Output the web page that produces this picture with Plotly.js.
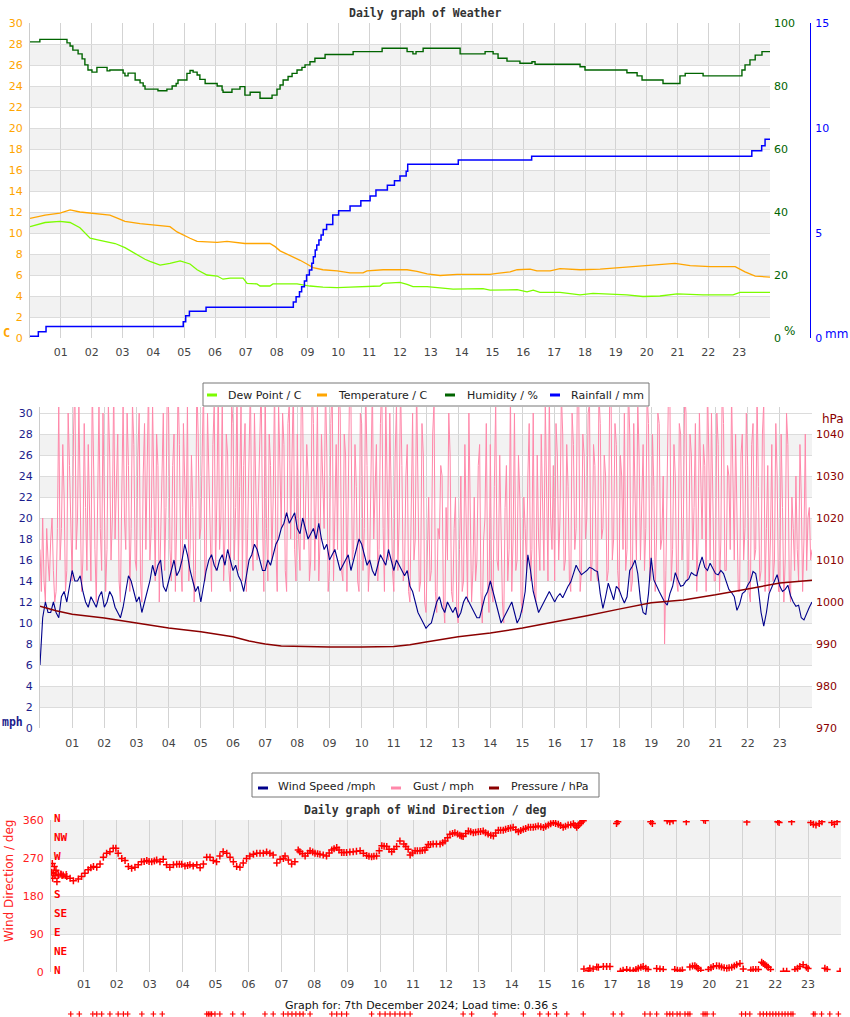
<!DOCTYPE html>
<html>
<head>
<meta charset="utf-8">
<script src="https://cdn.plot.ly/plotly-3.0.1.min.js"></script>
<style>
  html, body { margin: 0; padding: 0; background: #fff; }
  #chart { width: 850px; height: 1017px; }
</style>
</head>
<body>
<div id="chart"></div>
<script>
// ---------- shared time axis (hours of the day) ----------
const hourTicks = [0,1,2,3,4,5,6,7,8,9,10,11,12,13,14,15,16,17,18,19,20,21,22,23,24];
const hourLabels = ['','01','02','03','04','05','06','07','08','09','10','11','12','13','14','15','16','17','18','19','20','21','22','23',''];

// ---------- weather graph ----------
const humHours = [0,0.32,1.04,1.20,1.30,1.39,1.56,1.69,1.78,1.88,2.01,2.17,2.50,2.59,2.92,3.02,3.08,3.18,3.41,3.57,
  3.67,3.73,4.15,4.44,4.61,4.74,4.80,5.09,5.19,5.29,5.42,5.51,5.68,6.07,6.23,6.26,6.55,6.81,6.97,7.14,
  7.46,7.85,8.01,8.11,8.21,8.37,8.50,8.66,8.82,8.92,9.08,9.24,9.57,10.48,11.42,12.23,12.42,12.52,12.75,13.69,
  13.95,14.76,15.02,15.18,15.47,15.89,16.28,16.38,17.74,17.84,18.00,19.04,19.36,19.69,19.85,20.53,21.08,21.25,21.83,23.09,
  23.19,23.35,23.52,23.74,24.0];
const humVals = [94.0,94.8,94.8,93.7,92.7,91.4,90.2,88.6,86.7,85.1,84.4,85.9,84.8,85.1,85.1,84.1,83.2,84.1,81.9,81.0,
  80.0,79.0,78.5,79.0,80.0,80.8,81.9,84.0,84.9,84.4,83.5,82.1,80.8,80.0,78.7,78.0,79.0,79.8,77.1,78.0,
  76.1,77.1,79.0,80.3,81.9,83.0,84.0,85.1,85.9,86.7,87.7,88.8,90.0,90.9,92.0,90.9,90.2,90.9,92.0,92.0,
  90.2,90.9,90.2,88.8,87.9,87.2,87.7,86.9,86.9,86.1,85.1,85.1,84.2,83.2,81.9,80.8,83.2,84.0,83.2,85.1,
  86.7,88.3,89.8,90.9,90.9];

const tempHours = [0,0.49,0.97,1.30,1.62,1.95,2.59,2.85,3.08,3.57,3.89,4.12,4.54,4.77,4.96,5.19,5.42,6.07,6.39,6.71,
  6.97,7.78,7.95,8.11,8.34,8.53,8.76,8.98,9.18,9.50,9.96,10.38,10.80,10.93,11.45,12.23,12.55,12.88,13.30,13.85,
  14.92,15.15,15.57,15.80,16.22,16.44,16.87,17.19,17.84,18.49,19.14,19.79,20.43,20.92,21.41,22.06,22.87,23.19,23.52,24.0];
const tempVals = [11.4,11.7,11.9,12.2,12.0,11.9,11.7,11.4,11.1,10.9,10.8,10.7,10.6,10.1,9.8,9.5,9.2,9.1,9.2,9.1,
  9.0,9.0,8.7,8.3,8.0,7.7,7.4,7.05,6.7,6.5,6.4,6.2,6.2,6.4,6.5,6.5,6.35,6.1,5.95,6.05,
  6.05,6.15,6.3,6.5,6.55,6.4,6.4,6.6,6.5,6.55,6.7,6.8,7.0,7.1,6.9,6.8,6.8,6.3,5.9,5.8];

const dewHours = [0,0.49,0.97,1.30,1.62,1.95,2.27,2.76,3.08,3.41,3.73,3.89,4.22,4.54,4.87,5.19,5.42,5.74,6.07,6.26,
  6.49,6.91,7.04,7.36,7.46,7.78,7.88,8.66,9.08,9.50,9.96,10.38,11.35,11.45,12.0,12.23,12.42,12.88,13.30,13.72,
  14.69,14.92,15.80,16.12,16.32,16.54,17.19,17.84,18.26,19.36,19.88,20.43,20.99,21.83,22.80,23.03,24.0];
const dewVals = [10.6,11.0,11.1,11.0,10.5,9.5,9.3,9.0,8.6,8.0,7.5,7.3,6.95,7.1,7.35,7.05,6.5,6.0,5.9,5.6,
  5.7,5.7,5.2,5.15,4.95,4.95,5.15,5.15,4.95,4.85,4.8,4.85,4.95,5.2,5.3,5.1,4.9,4.9,4.75,4.65,
  4.7,4.55,4.6,4.4,4.55,4.35,4.35,4.1,4.25,4.1,3.95,4.0,4.2,4.1,4.1,4.35,4.35];

const rainHours = [0,0.27,0.52,4.97,5.05,5.17,5.71,8.54,8.63,8.74,8.81,8.90,8.97,9.06,9.14,9.19,9.25,9.30,9.37,9.44,
  9.51,9.62,9.82,10.01,10.38,10.73,11.03,11.22,11.59,11.82,12.0,12.2,12.25,13.89,16.27,23.41,23.73,23.84,24.0];
const rainVals = [0.08,0.3,0.55,0.77,1.06,1.27,1.46,1.72,1.97,2.2,2.44,2.71,3.0,3.24,3.56,3.87,4.19,4.43,4.67,4.9,
  5.17,5.41,5.86,6.06,6.29,6.54,6.76,7.05,7.27,7.49,7.71,7.94,8.27,8.48,8.65,8.92,9.16,9.46,9.46];

// ---------- wind graph: wind speed every 5 min, gust every 2.5 min ----------
const windVals = [6,10.5,12,11,11,12,11,10.5,12.5,13,12,13.5,15,14,14,14.5,13,12,11.5,12.5,
  12,11.5,12.5,13,11.5,12,13,12.5,11.5,11,10.5,11.5,13,14.5,14,13,12,12.5,11,12,
  13,14,15.5,14.5,15.5,16,13.5,13,14,15,16,14.5,15,16,17.5,16.5,15,14,13,13.5,
  12,13.5,15,16,16.5,15.5,15,16,16.5,15.5,17,16,15,15.5,14.5,14,13,14.5,16,16.5,
  17.5,17,16,15,15,16,15.5,16.5,17.5,18,19,19.5,20.5,19.5,20,20.5,19,18.5,20,19,
  18,18.5,19,18,19.5,18,17,17.5,16,16.5,17,16,15,15.5,16,16.5,15,16,17,18,
  17.5,16.5,15.5,16,15,14.5,15.5,16.5,16,15.5,17,16,15,16,15.5,15,14.5,15,13.5,13,
  12,11,10.5,10,9.5,9.8,10,11,12,12.5,11.5,11,12,11.5,11,11.5,10.5,11,12,12.5,
  12,11.5,11,10.5,10.5,11.5,12.5,13,14,13,12,11,10,10.5,11,11.5,12,11,10,10.5,
  11.5,13,16.5,15,13,12,11,11.5,12,12.5,13,12.5,12,12.5,12.8,12.4,13.0,13.5,13.9,14.6,
  15.5,15,14.6,14.8,15.0,15.3,15.2,15,14.9,12.8,11.4,12.5,13.8,13,12.2,13.5,13.2,12.5,11.9,12.5,
  15.0,15.4,16.0,14.7,12.2,11,10.8,12.8,16.2,14.1,13.5,13,12.5,12,11.7,12.8,13.5,14.8,14.1,13.5,
  13.6,14,14.2,14.8,14.6,14.5,15.5,16.3,15.3,15,15.7,15.2,14.7,14.6,15.0,14.7,13.9,13.2,12.9,12.5,
  11.2,11.8,12.8,13,13.6,14,14.9,14.7,13.2,11,9.7,11,12.8,13.5,14.0,14.6,13.5,13,13.2,13.6,
  12.6,12,11.6,11.7,10.5,10.3,11.0,11.5,12.0];
const windHours = windVals.map((_, i) => i / 12);

const gustVals = [17,13,20,14,12,19,16,14,18,20,15,12,13,19,31,16,19,27,22,13,15,30,25,18,
  14,28,33,17,20,31,23,13,16,29,21,15,27,19,14,33,24,17,12,25,31,19,15,30,
  22,13,17,31,26,16,20,33,18,24,28,14,12,22,31,20,17,30,25,13,19,31,27,16,
  15,26,30,14,12,24,29,17,23,33,16,19,31,22,14,28,25,12,18,27,30,15,21,33,
  30,17,14,25,28,13,20,33,27,16,13,29,22,18,31,14,17,26,21,12,15,33,28,18,
  19,25,33,14,16,30,24,18,13,27,31,15,22,33,17,20,32,14,18,28,26,15,13,31,
  29,16,21,33,15,23,31,14,25,29,13,19,28,33,18,15,30,24,16,22,26,33,20,13,
  33,19,14,28,25,16,22,33,17,13,31,23,19,30,27,15,13,29,31,18,23,33,17,14,
  28,18,15,33,30,17,20,27,24,14,16,33,29,15,22,31,14,18,28,23,19,33,26,13,
  15,29,33,14,21,27,17,33,30,15,14,28,26,13,22,33,31,16,17,27,23,14,13,30,
  29,15,19,33,25,13,16,31,33,18,22,27,14,17,29,33,19,13,31,23,16,30,24,15,
  13,26,31,15,20,33,25,14,15,24,27,13,12,21,30,16,18,33,23,13,14,29,26,12,
  11,18,22,14,15,28,31,13,11,19,18,25,24,12,10,21,16,30,26,13,12,19,22,11,
  10,17,24,13,14,27,19,12,30,21,12,15,22,14,16,25,27,13,10,18,20,29,14,11,
  27,13,12,23,31,16,15,26,20,12,10,21,25,14,17,32,13,18,30,15,16,26,22,12,
  11,22,19,15,24,29,14,17,30,13,12,26,18,15,28,21,15,31,23,14,32,20,17,25,
  14,29,26,16,20,32,28,15,16,27,23,14,13,30,27,17,19,33,31,13,15,28,26,18,
  20,30,31,14,16,27,25,15,14,32,29,18,19,26,24,14,15,31,33,16,18,29,27,15,
  13,26,24,17,30,15,17,33,28,13,14,29,22,16,31,26,16,21,27,15,19,32,29,14,
  15,28,23,13,18,30,29,17,18,24,8,15,25,33,31,14,17,27,24,14,13,29,28,16,
  19,32,30,14,15,28,26,16,21,29,13,18,30,22,18,27,25,13,33,26,16,30,22,14,
  14,30,27,13,18,33,29,15,15,25,24,17,32,21,16,28,21,13,13,26,28,16,19,30,
  25,13,12,27,29,16,17,32,23,14,15,28,31,13,19,25,13,18,27,14,16,29,24,13,
  13,28,21,12,16,30,27,14,12,22,19,15,24,17,14,27,22,13,18,28,15,20,21,16,
  17];
const gustHours = gustVals.map((_, i) => i / 24);

const presHours = [0,0.5,1,2,3,4,5,6,6.5,7,7.5,8,9,10,11,11.5,12,13,14,15,16,17,18,19,20,21,22,23,24];
const presVals = [999.0,997.9,997.1,996.2,995.0,993.8,992.9,991.7,990.7,990.0,989.5,989.4,989.3,989.3,989.4,989.8,990.5,
  991.7,992.6,993.8,995.2,996.7,998.3,999.8,1000.5,1001.7,1003.1,1004.5,1005.2];

// ---------- wind direction graph ----------
const dirHours = [0.02,0.04,0.05,0.07,0.10,0.12,0.15,0.18,0.22,0.30,0.37,0.48,0.58,0.68,0.83,0.93,1.03,1.13,1.21,1.29,
  1.39,1.49,1.59,1.69,1.79,1.89,1.97,2.04,2.15,2.25,2.35,2.45,2.55,2.65,2.75,2.83,2.91,2.98,3.06,3.14,
  3.21,3.31,3.41,3.51,3.61,3.72,3.82,3.90,3.97,4.07,4.15,4.22,4.32,4.43,4.53,4.63,4.73,4.83,4.93,5.03,
  5.13,5.23,5.34,5.44,5.54,5.64,5.74,5.84,5.94,6.04,6.15,6.25,6.35,6.45,6.55,6.65,6.75,6.86,6.96,7.06,
  7.11,7.21,7.31,7.41,7.51,7.56,7.64,7.72,7.80,7.87,7.95,8.02,8.10,8.17,8.27,8.37,8.45,8.53,8.60,8.68,
  8.75,8.83,8.90,8.98,9.08,9.18,9.28,9.39,9.49,9.59,9.66,9.74,9.81,9.89,9.97,10.05,10.12,10.20,10.27,10.35,
  10.42,10.50,10.60,10.72,10.78,10.85,10.91,10.98,11.06,11.13,11.21,11.28,11.36,11.41,11.46,11.53,11.61,11.71,11.82,11.90,
  11.97,12.05,12.12,12.20,12.27,12.35,12.42,12.47,12.52,12.60,12.68,12.75,12.83,12.90,12.98,13.05,13.13,13.20,13.28,13.36,
  13.44,13.51,13.59,13.66,13.74,13.81,13.89,13.96,14.04,14.12,14.20,14.27,14.35,14.42,14.50,14.57,14.65,14.72,14.80,14.88,
  14.96,15.03,15.11,15.18,15.26,15.33,15.41,15.48,15.56,15.63,15.71,15.79,15.87,15.92,15.97,16.02,16.07,16.12,16.17,
  16.19,16.32,16.37,16.47,16.58,16.63,16.78,16.88,16.98,17.30,17.38,17.49,17.59,17.69,17.77,17.84,17.92,17.99,18.07,18.14,
  18.40,18.50,18.60,18.95,19.03,19.11,19.18,19.41,19.49,19.56,19.61,19.66,19.74,19.97,20.05,20.12,20.22,20.30,20.37,20.45,
  20.53,20.60,20.68,20.76,20.83,20.93,21.03,21.26,21.33,21.41,21.49,21.59,21.64,21.69,21.74,21.79,21.86,22.25,22.35,22.60,
  22.68,22.75,22.85,22.95,23.00,23.51,23.58,23.97,
  17.18,17.22,18.22,18.27,18.72,18.80,18.90,19.30,19.83,19.88,21.14,22.08,22.12,22.50,23.08,23.16,23.24,23.34,23.42,23.72,23.80,23.88];
const dirVals = [236,257,222,234,250,228,241,214,230,232,230,226,222,216,220,226,234,242,247,250,
  248,256,272,281,285,293,293,281,269,264,250,246,248,254,261,262,264,262,261,263,
  265,261,267,254,248,254,255,255,255,251,252,254,251,254,247,256,272,272,264,261,
  275,285,281,272,261,250,248,258,269,275,279,281,281,281,284,281,277,258,267,269,
  275,265,256,261,289,285,280,275,281,287,284,281,280,279,277,275,282,289,292,295,
  289,283,283,283,284,285,286,287,281,276,274,273,274,275,287,299,298,297,291,285,
  291,297,310,303,297,291,277,282,287,287,287,288,289,295,302,302,303,303,303,306,
  310,318,326,328,330,327,324,322,321,328,334,332,330,331,332,333,334,330,327,324,
  322,329,336,336,336,338,340,341,343,337,332,335,338,340,343,343,343,344,346,344,
  342,345,348,351,354,352,350,347,343,345,348,349,351,347,343,347,352,355,358,
  7,3,9,7,12,11,13,13,13,2,4,6,4,3,6,9,11,13,9,6,
  8,7,6,6,4,3,5,12,14,15,12,8,4,6,10,13,15,14,12,10,
  9,10,11,14,17,20,7,5,6,6,6,23,20,17,14,11,6,2,2,6,
  9,13,17,11,8,9,6,2,
  352,356,356,352,358,356,358,356,360,359,355,356,354,356,354,350,348,352,356,354,350,356];

// readings with no usable direction, drawn as a row of marks under the graph
const calmHours = [0.60,0.86,1.27,1.39,1.54,1.79,2.04,2.20,2.33,2.76,3.11,3.38,4.73,4.78,4.83,4.88,4.98,5.13,5.52,5.84,
  6.50,6.75,7.06,7.20,7.32,7.44,7.56,7.66,7.87,8.53,8.68,8.83,8.98,9.74,9.99,10.15,10.30,10.45,10.60,10.75,
  10.91,12.52,12.78,13.49,14.35,14.85,15.11,15.36,15.67,16.17,17.08,17.34,18.04,18.20,18.40,18.71,18.80,18.89,19.02,19.11,
  19.26,19.35,19.41,19.81,19.87,19.93,20.12,20.98,21.10,21.23,21.54,21.64,21.74,21.84,21.93,22.02,22.11,22.21,22.30,22.39,
  22.48,22.54,23.16,23.21,23.41,23.66,23.92];
const calmRow = calmHours.map(() => 0);

const compassDeg = [0,45,90,135,180,225,270,315,360];
const compassText = ['N','NE','E','SE','S','SW','W','NW','N'];

// ---------- page geometry helpers ----------
const W = 850, H = 1017;
const fx = x => x / W;
const fy = y => 1 - y / H;
const FONT = 'DejaVu Sans';
const MONO = 'DejaVu Sans Mono';
const NAVY = '#1c1c8c';

function bands(axis, spans) {
  return spans.map(([a, b]) => ({
    type: 'rect', layer: 'below', xref: axis.x + ' domain', yref: axis.y,
    x0: 0, x1: 1, y0: a, y1: b, fillcolor: '#f2f2f2', line: { width: 0 },
  }));
}
const evenSpans = [[2,4],[6,8],[10,12],[14,16],[18,20],[22,24],[26,28]];

function legendBox(x0, x1, y0, y1, items) {
  const shapes = [{
    type: 'rect', xref: 'paper', yref: 'paper', x0: fx(x0), x1: fx(x1), y0: fy(y1), y1: fy(y0),
    fillcolor: '#fff', line: { color: '#777', width: 1 }, layer: 'above',
  }];
  const notes = [];
  items.forEach(it => {
    shapes.push({
      type: 'line', xref: 'paper', yref: 'paper', x0: fx(it.sx), x1: fx(it.sx + 10),
      y0: fy(it.sy), y1: fy(it.sy), line: { color: it.color, width: 3 }, layer: 'above',
    });
    notes.push({
      xref: 'paper', yref: 'paper', x: fx(it.tx), y: fy(it.ty), xanchor: 'left', yanchor: 'middle',
      text: it.text, showarrow: false, font: { family: FONT, size: 11, color: '#222' },
    });
  });
  return { shapes, notes };
}

const xBase = {
  range: [0, 24], tickmode: 'array', tickvals: hourTicks, ticktext: hourLabels,
  showgrid: true, gridcolor: '#d3d3d3', zeroline: false, showline: false, ticks: '',
  tickfont: { family: FONT, size: 11, color: '#444' }, fixedrange: true,
};
const yBase = {
  showgrid: true, gridcolor: '#dcdcdc', zeroline: false, showline: true, linecolor: '#ccc',
  ticks: '', tickmode: 'array', fixedrange: true, ticklabelstandoff: 4,
};
const evens = [0,2,4,6,8,10,12,14,16,18,20,22,24,26,28,30];

const traces = [
  { x: dewHours, y: dewVals, xaxis: 'x', yaxis: 'y', type: 'scatter', mode: 'lines',
    line: { color: '#7cfc00', width: 1.3 }, name: 'Dew Point / C' },
  { x: tempHours, y: tempVals, xaxis: 'x', yaxis: 'y', type: 'scatter', mode: 'lines',
    line: { color: '#ffa500', width: 1.3 }, name: 'Temperature / C' },
  { x: humHours, y: humVals, xaxis: 'x', yaxis: 'y2', type: 'scatter', mode: 'lines',
    line: { color: '#006400', width: 1.4, shape: 'hv' }, name: 'Humidity / %' },
  { x: rainHours, y: rainVals, xaxis: 'x', yaxis: 'y3', type: 'scatter', mode: 'lines',
    line: { color: '#0000ff', width: 1.5, shape: 'hv' }, name: 'Rainfall / mm' },

  { x: gustHours, y: gustVals, xaxis: 'x2', yaxis: 'y4', type: 'scatter', mode: 'lines',
    line: { color: '#ff88aa', width: 1 }, name: 'Gust / mph' },
  { x: windHours, y: windVals, xaxis: 'x2', yaxis: 'y4', type: 'scatter', mode: 'lines',
    line: { color: '#00008b', width: 1.1 }, name: 'Wind Speed /mph' },
  { x: presHours, y: presVals, xaxis: 'x2', yaxis: 'y5', type: 'scatter', mode: 'lines',
    line: { color: '#8b0000', width: 1.5 }, name: 'Pressure / hPa' },

  { x: dirHours, y: dirVals, xaxis: 'x3', yaxis: 'y6', type: 'scatter', mode: 'markers',
    marker: { symbol: 'cross-thin', size: 5, color: '#ff0000', line: { color: '#ff0000', width: 1.5 } },
    name: 'Wind Direction / deg' },
  { x: calmHours, y: calmRow, xaxis: 'x4', yaxis: 'y7', type: 'scatter', mode: 'markers', cliponaxis: false,
    marker: { symbol: 'cross-thin', size: 4, color: '#ff0000', line: { color: '#ff0000', width: 1.2 } },
    name: 'no direction' },
];

const leg1 = legendBox(203, 649, 383, 406, [
  { sx: 207, sy: 395, tx: 226, ty: 395.5, color: '#7cfc00', text: 'Dew Point / C' },
  { sx: 317, sy: 395, tx: 336, ty: 395.5, color: '#ffa500', text: 'Temperature / C' },
  { sx: 445, sy: 395, tx: 465, ty: 395.5, color: '#006400', text: 'Humidity / %' },
  { sx: 550, sy: 395, tx: 569, ty: 395.5, color: '#0000ff', text: 'Rainfall / mm' },
]);
const leg2 = legendBox(252, 599, 773, 797, [
  { sx: 258, sy: 788, tx: 276, ty: 786.5, color: '#00008b', text: 'Wind Speed /mph' },
  { sx: 391, sy: 788, tx: 411, ty: 786.5, color: '#ff88aa', text: 'Gust / mph' },
  { sx: 489, sy: 788, tx: 509, ty: 786.5, color: '#8b0000', text: 'Pressure / hPa' },
]);

const note = (x, y, text, font, extra) => Object.assign({
  xref: 'paper', yref: 'paper', x: fx(x), y: fy(y), text, showarrow: false,
  xanchor: 'center', yanchor: 'middle', font,
}, extra || {});

const annotations = [
  note(425, 13, '<b>Daily graph of Weather</b>', { family: MONO, size: 11.5, color: '#333' }),
  note(6, 333, '<b>C</b>', { family: MONO, size: 12, color: '#ffa500' }),
  note(789, 331, '%', { family: FONT, size: 12, color: '#006400' }),
  note(836, 334, 'mm', { family: FONT, size: 12, color: '#0000ff' }),
  note(12, 722, '<b>mph</b>', { family: MONO, size: 11.5, color: NAVY }),
  note(833, 419, 'hPa', { family: FONT, size: 12, color: '#8b0000' }),
  note(425, 810, '<b>Daily graph of Wind Direction / deg</b>', { family: MONO, size: 11.5, color: '#333' }),
  note(9, 881, 'Wind Direction / deg', { family: FONT, size: 12, color: '#ff2020' }, { textangle: -90 }),
  note(421, 1005, 'Graph for: 7th December 2024; Load time: 0.36 s', { family: FONT, size: 11, color: '#111' }),
  ...compassDeg.map((d, i) => ({
    xref: 'paper', yref: 'y6', x: fx(51.5), y: d, yshift: 2, text: '<b>' + compassText[i] + '</b>',
    showarrow: false, xanchor: 'left', yanchor: 'middle',
    font: { family: MONO, size: 11, color: '#ff0000' },
  })),
  ...leg1.notes, ...leg2.notes,
];

const hidden = { visible: false, fixedrange: true, showgrid: false, zeroline: false };

const layout = {
  width: W, height: H,
  margin: { l: 0, r: 0, t: 0, b: 0 },
  paper_bgcolor: '#fff', plot_bgcolor: 'rgba(0,0,0,0)',
  font: { family: FONT, size: 11, color: '#444' },
  showlegend: false,

  xaxis: { ...xBase, domain: [fx(30), fx(770)], anchor: 'y', ticklabelstandoff: 6 },
  yaxis: { ...yBase, domain: [fy(338), fy(23)], anchor: 'x', range: [0, 30], tickvals: evens,
    tickfont: { family: FONT, size: 11, color: '#ffa500' } },
  yaxis2: { ...yBase, overlaying: 'y', side: 'right', anchor: 'x', range: [0, 100],
    tickvals: [0,20,40,60,80,100], showgrid: false, showline: false, ticklabelstandoff: 3,
    tickfont: { family: FONT, size: 11, color: '#006400' } },
  yaxis3: { ...yBase, overlaying: 'y', side: 'right', anchor: 'free', position: fx(810), range: [0, 15],
    tickvals: [0,5,10,15], showgrid: false, linecolor: '#0000ff', ticklabelstandoff: 2,
    tickfont: { family: FONT, size: 11, color: '#0000ff' } },

  xaxis2: { ...xBase, domain: [fx(40), fx(812)], anchor: 'y4', ticklabelstandoff: 7 },
  yaxis4: { ...yBase, domain: [fy(728), fy(407)], anchor: 'x2', range: [0, 30.571], tickvals: evens,
    tickfont: { family: FONT, size: 11, color: NAVY } },
  yaxis5: { ...yBase, overlaying: 'y4', side: 'right', anchor: 'x2', range: [970, 1046.43],
    tickvals: [970,980,990,1000,1010,1020,1030,1040], showgrid: false, showline: false, ticklabelstandoff: 3,
    tickfont: { family: FONT, size: 11, color: '#8b0000' } },

  xaxis3: { ...xBase, domain: [fx(51), fx(841)], anchor: 'y6', ticklabelstandoff: 4 },
  yaxis6: { ...yBase, domain: [fy(972), fy(820)], anchor: 'x3', range: [0, 360],
    tickvals: [0,90,180,270,360], tickfont: { family: FONT, size: 11, color: '#ff2020' } },

  // thin strip under the direction graph for the no-direction marks
  xaxis4: { ...hidden, domain: [fx(51), fx(841)], anchor: 'y7', range: [0, 24] },
  yaxis7: { ...hidden, domain: [fy(1017), fy(1011)], anchor: 'x4', range: [-1, 1] },

  shapes: [
    ...bands({ x: 'x', y: 'y' }, evenSpans),
    ...bands({ x: 'x2', y: 'y4' }, evenSpans),
    ...bands({ x: 'x3', y: 'y6' }, [[90,180],[270,360]]),
    ...leg1.shapes, ...leg2.shapes,
  ],
  annotations,
};

Plotly.newPlot('chart', traces, layout, { staticPlot: true, displayModeBar: false });
</script>
</body>
</html>
